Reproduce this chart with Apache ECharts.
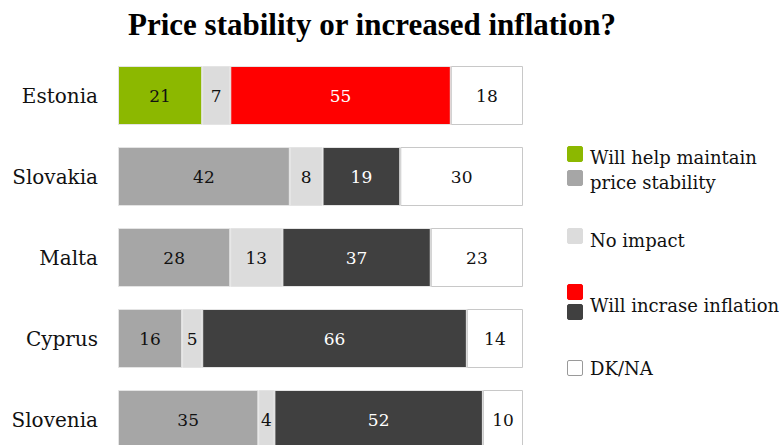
<!DOCTYPE html>
<html>
<head>
<meta charset="utf-8">
<script src="https://cdn.jsdelivr.net/npm/echarts@6/dist/echarts.min.js"></script>
<style>
  html, body { margin: 0; padding: 0; background: #fff; }
  #chart { width: 779px; height: 445px; }
</style>
</head>
<body>
<div id="chart"></div>
<script>
// Survey answers per country (percent of respondents)
const countries = ['Estonia', 'Slovakia', 'Malta', 'Cyprus', 'Slovenia'];
const stability = [21, 42, 28, 16, 35];
const noImpact  = [7, 8, 13, 5, 4];
const inflation = [55, 19, 37, 66, 52];
const dkna      = [18, 30, 23, 14, 10];

const seriesNames = ['Will help maintain price stability', 'No impact', 'Will incrase inflation', 'DK/NA'];
const titleText = 'Price stability or increased inflation?';

// Legend entries: label lines and swatch colours
const legendItems = [
  { lines: ['Will help maintain', 'price stability'], colors: ['#8cb800', '#a6a6a6'] },
  { lines: ['No impact'], colors: ['#dcdcdc'] },
  { lines: ['Will incrase inflation'], colors: ['#ff0000', '#404040'] },
  { lines: ['DK/NA'], colors: ['#ffffff'] }
];

const FONT = "'DejaVu Serif', Georgia, serif";
const totals = countries.map((_, i) => stability[i] + noImpact[i] + inflation[i] + dkna[i]);

// Each bar is drawn as a share of its row total so all rows span the full width
function makeSeries(name, values, color, labelColor, overrides) {
  return {
    name: name,
    type: 'bar',
    stack: 'all',
    barWidth: 59,
    silent: true,
    itemStyle: { color: color, borderColor: '#e4e4e4', borderWidth: 1 },
    label: {
      show: true,
      position: 'inside',
      fontFamily: FONT,
      fontSize: 17,
      color: labelColor,
      formatter: p => String(values[p.dataIndex])
    },
    data: values.map((v, i) => {
      const d = { value: v / totals[i] * 100 };
      if (overrides && overrides[i]) Object.assign(d, overrides[i]);
      return d;
    })
  };
}

const series = [
  makeSeries(seriesNames[0], stability, '#a6a6a6', '#111', {
    0: { itemStyle: { color: '#8cb800', borderColor: '#e4e4e4', borderWidth: 1 } }
  }),
  makeSeries(seriesNames[1], noImpact, '#dcdcdc', '#111'),
  makeSeries(seriesNames[2], inflation, '#404040', '#fff', {
    0: { itemStyle: { color: '#ff0000', borderColor: '#e4e4e4', borderWidth: 1 } }
  }),
  makeSeries(seriesNames[3], dkna, '#ffffff', '#111')
];
series[3].itemStyle.borderColor = '#c8c8c8';

// Hand-built legend with stacked swatches
const graphic = [];
const legendLayout = [
  { swatchY: [146, 170], textY: [157, 182] },
  { swatchY: [228], textY: [240] },
  { swatchY: [284, 304], textY: [305] },
  { swatchY: [360], textY: [368] }
];
legendItems.forEach((item, k) => {
  const lay = legendLayout[k];
  item.colors.forEach((c, j) => {
    graphic.push({
      type: 'rect',
      shape: { x: 567.5, y: lay.swatchY[j] + 0.5, width: 15, height: 15, r: 1.5 },
      style: { fill: c, stroke: c === '#ffffff' ? '#9a9a9a' : c, lineWidth: 1 },
      silent: true
    });
  });
  item.lines.forEach((t, j) => {
    graphic.push({
      type: 'text',
      x: 590,
      y: lay.textY[j],
      style: { text: t, fontFamily: FONT, fontSize: 18, fill: '#111', verticalAlign: 'middle' },
      silent: true
    });
  });
});
graphic.push({
  type: 'text',
  x: 372,
  y: 24,
  style: {
    text: titleText,
    fontFamily: "'Liberation Serif', 'Times New Roman', serif",
    fontWeight: 'bold',
    fontSize: 31,
    fill: '#000',
    align: 'center',
    verticalAlign: 'middle'
  },
  silent: true
});

const chart = echarts.init(document.getElementById('chart'), null, { renderer: 'svg' });
chart.setOption({
  animation: false,
  backgroundColor: '#fff',
  grid: { left: 118, right: 256, top: 55, height: 405, containLabel: false, outerBoundsMode: 'none' },
  xAxis: { type: 'value', min: 0, max: 100, show: false },
  yAxis: {
    type: 'category',
    data: countries,
    inverse: true,
    axisLine: { show: false },
    axisTick: { show: false },
    axisLabel: { fontFamily: FONT, fontSize: 20, color: '#111', margin: 20 }
  },
  series: series,
  graphic: graphic
});
</script>
</body>
</html>
